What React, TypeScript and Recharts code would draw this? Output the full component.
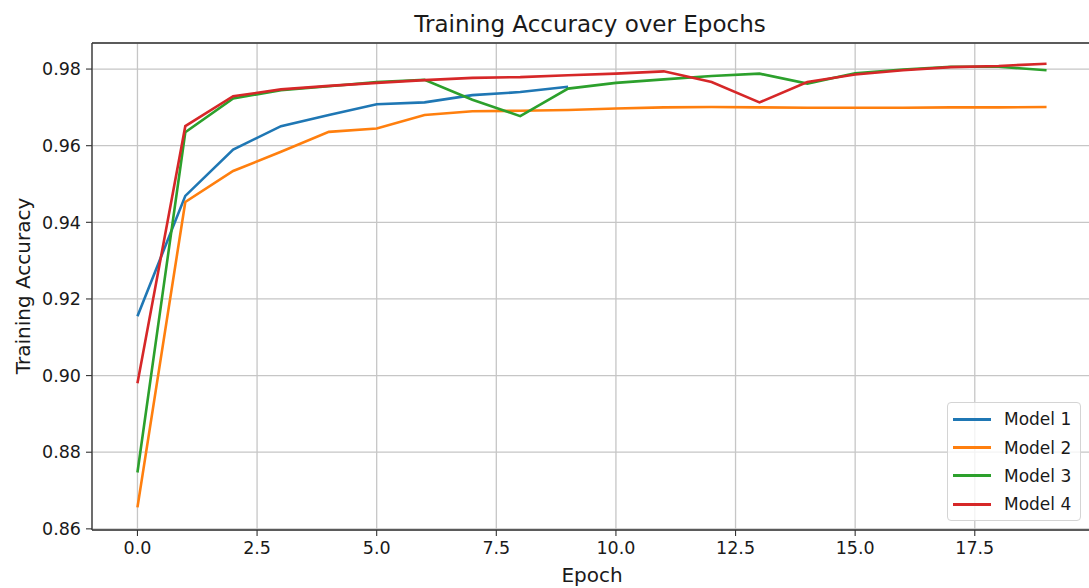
import { LineChart, Line, XAxis, YAxis, CartesianGrid, Legend, Label, ReferenceLine } from 'recharts';

const epochs = [0, 1, 2, 3, 4, 5, 6, 7, 8, 9, 10, 11, 12, 13, 14, 15, 16, 17, 18, 19];

// model 1 stopped after 10 epochs
const model1 = [0.9155, 0.9469, 0.959, 0.9651, 0.968, 0.9708, 0.9713, 0.9732, 0.974, 0.9754];
const model2 = [
  0.8656, 0.9453, 0.9534, 0.9584, 0.9636, 0.9645, 0.968, 0.969, 0.9691, 0.9693,
  0.9697, 0.97, 0.9701, 0.97, 0.9699, 0.9699, 0.9699, 0.97, 0.97, 0.9701,
];
const model3 = [
  0.8747, 0.9635, 0.9723, 0.9745, 0.9755, 0.9766, 0.9772, 0.972, 0.9677, 0.9749,
  0.9764, 0.9773, 0.9782, 0.9788, 0.9762, 0.9789, 0.9799, 0.9806, 0.9806, 0.9797,
];
const model4 = [
  0.898, 0.9651, 0.9729, 0.9747, 0.9756, 0.9764, 0.9771, 0.9777, 0.9779, 0.9784,
  0.9788, 0.9794, 0.9766, 0.9713, 0.9766, 0.9786, 0.9797, 0.9805, 0.9808, 0.9814,
];

const xTicks = [0, 2.5, 5, 7.5, 10, 12.5, 15, 17.5];
const yTicks = [0.86, 0.88, 0.9, 0.92, 0.94, 0.96, 0.98];
const yDomain = [0.8597, 0.9868];

const series = [
  { key: 'm1', name: 'Model 1', values: model1, color: '#1f77b4' },
  { key: 'm2', name: 'Model 2', values: model2, color: '#ff7f0e' },
  { key: 'm3', name: 'Model 3', values: model3, color: '#2ca02c' },
  { key: 'm4', name: 'Model 4', values: model4, color: '#d62728' },
];

const data = epochs.map((epoch, i) => {
  const row: Record<string, number | null> = { epoch };
  series.forEach((s) => {
    row[s.key] = i < s.values.length ? s.values[i] : null;
  });
  return row;
});

const FONT = '"DejaVu Sans", sans-serif';
const SPINE = '#333';
const INK = '#1a1a1a';

const LegendBox = () => (
  <div
    style={{
      width: 134,
      height: 119,
      boxSizing: 'border-box',
      background: 'rgba(255,255,255,0.8)',
      border: '1px solid #d4d4d4',
      borderRadius: 4,
      paddingTop: 2,
      fontFamily: FONT,
      fontSize: 17,
      color: INK,
    }}
  >
    {series.map((s) => (
      <div key={s.key} style={{ display: 'flex', alignItems: 'center', height: 28.4 }}>
        <span style={{ display: 'inline-block', width: 38, height: 3, background: s.color, marginLeft: 5, marginRight: 13 }} />
        <span>{s.name}</span>
      </div>
    ))}
  </div>
);

const App = () => {
  return (
    <div style={{ position: 'absolute', left: 0, top: 0, width: 1089, height: 588, overflow: 'hidden', background: '#fff' }}>
      <LineChart width={1093} height={588} data={data} margin={{ top: 43, right: 1, bottom: 0, left: 0 }}>
        <CartesianGrid stroke="#c6c6c6" strokeWidth={1.3} />
        <XAxis
          dataKey="epoch"
          type="number"
          domain={[-0.95, 19.95]}
          ticks={xTicks}
          tickFormatter={(v: number) => v.toFixed(1)}
          allowDataOverflow
          height={58}
          tickSize={6}
          tickMargin={6}
          axisLine={{ stroke: SPINE, strokeWidth: 1.3 }}
          tickLine={{ stroke: SPINE, strokeWidth: 1.1 }}
          tick={{ fill: INK, fontSize: 17.5, fontFamily: FONT }}
        >
          <Label value="Epoch" position="insideBottom" offset={6.5} fill={INK} fontSize={20} fontFamily={FONT} />
          <Label
            content={() => (
              <text x={590} y={32} textAnchor="middle" fill={INK} fontSize={23} fontFamily={FONT}>
                Training Accuracy over Epochs
              </text>
            )}
          />
        </XAxis>
        <YAxis
          type="number"
          domain={yDomain}
          ticks={yTicks}
          tickFormatter={(v: number) => v.toFixed(2)}
          allowDataOverflow
          width={92}
          tickSize={6}
          tickMargin={5}
          axisLine={{ stroke: SPINE, strokeWidth: 1.3 }}
          tickLine={{ stroke: SPINE, strokeWidth: 1.1 }}
          tick={{ fill: INK, fontSize: 17.5, fontFamily: FONT }}
        >
          <Label
            content={() => (
              <text
                x={30}
                y={286}
                transform="rotate(-90 30 286)"
                textAnchor="middle"
                fill={INK}
                fontSize={20}
                fontFamily={FONT}
              >
                Training Accuracy
              </text>
            )}
          />
        </YAxis>
        <ReferenceLine y={yDomain[1]} stroke={SPINE} strokeWidth={1.3} ifOverflow="visible" />
        <Legend
          layout="vertical"
          align="center"
          verticalAlign="middle"
          content={() => <LegendBox />}
          wrapperStyle={{ left: 947, top: 402, width: 134, height: 119 }}
        />
        {series.map((s) => (
          <Line
            key={s.key}
            type="linear"
            dataKey={s.key}
            name={s.name}
            stroke={s.color}
            strokeWidth={2.6}
            dot={false}
            activeDot={false}
            isAnimationActive={false}
          />
        ))}
      </LineChart>
    </div>
  );
};

export default App;
